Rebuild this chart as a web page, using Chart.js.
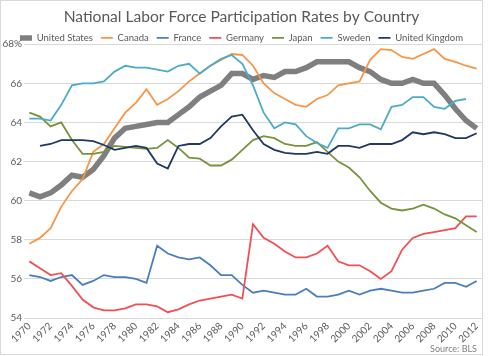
<!DOCTYPE html>
<html>
<head>
<meta charset="utf-8">
<script src="https://cdn.jsdelivr.net/npm/chart.js@4"></script>
<style>
  html, body { margin: 0; padding: 0; background: #ffffff; }
  #wrap { width: 490px; height: 356px; position: relative; }
</style>
</head>
<body>
<div id="wrap"><canvas id="c" width="490" height="356"></canvas></div>
<script>
const years = [];
for (let y = 1970; y <= 2012; y++) years.push(String(y));

const seriesNames = ["United States", "Canada", "France", "Germany", "Japan", "Sweden", "United Kingdom"];

const unitedStates = [60.4, 60.2, 60.4, 60.8, 61.3, 61.2, 61.6, 62.3, 63.2, 63.7, 63.8, 63.9, 64.0, 64.0, 64.4, 64.8, 65.3, 65.6, 65.9, 66.5, 66.5, 66.2, 66.4, 66.3, 66.6, 66.6, 66.8, 67.1, 67.1, 67.1, 67.1, 66.8, 66.6, 66.2, 66.0, 66.0, 66.2, 66.0, 66.0, 65.4, 64.7, 64.1, 63.7];
const canada = [57.8, 58.1, 58.6, 59.7, 60.5, 61.1, 62.5, 62.9, 63.7, 64.5, 65.0, 65.7, 64.9, 65.2, 65.6, 66.1, 66.5, 66.9, 67.2, 67.5, 67.45, 66.9, 66.0, 65.5, 65.2, 64.9, 64.8, 65.2, 65.4, 65.9, 66.0, 66.1, 67.2, 67.75, 67.7, 67.35, 67.25, 67.5, 67.75, 67.25, 67.1, 66.9, 66.75];
const france = [56.2, 56.1, 55.9, 56.1, 56.2, 55.7, 55.9, 56.2, 56.1, 56.1, 56.0, 55.8, 57.7, 57.3, 57.1, 57.0, 57.1, 56.7, 56.2, 56.2, 55.7, 55.3, 55.4, 55.3, 55.2, 55.2, 55.5, 55.1, 55.1, 55.2, 55.4, 55.2, 55.4, 55.5, 55.4, 55.3, 55.3, 55.4, 55.5, 55.8, 55.8, 55.6, 55.9];
const germany = [56.9, 56.55, 56.2, 56.3, 55.65, 54.95, 54.55, 54.4, 54.4, 54.5, 54.7, 54.7, 54.6, 54.3, 54.45, 54.7, 54.9, 55.0, 55.1, 55.2, 55.0, 58.8, 58.1, 57.8, 57.4, 57.1, 57.1, 57.3, 57.7, 56.9, 56.7, 56.7, 56.4, 56.0, 56.4, 57.5, 58.1, 58.3, 58.4, 58.5, 58.6, 59.2, 59.2];
const japan = [64.5, 64.3, 63.8, 64.0, 63.1, 62.4, 62.4, 62.5, 62.8, 62.75, 62.7, 62.65, 62.7, 63.1, 62.7, 62.2, 62.15, 61.8, 61.8, 62.1, 62.6, 63.1, 63.3, 63.2, 62.9, 62.8, 62.8, 63.0, 62.5, 62.0, 61.7, 61.2, 60.5, 59.9, 59.6, 59.5, 59.6, 59.8, 59.6, 59.3, 59.1, 58.75, 58.4];
const sweden = [64.2, 64.2, 64.1, 64.9, 65.9, 66.0, 66.0, 66.1, 66.6, 66.9, 66.8, 66.8, 66.7, 66.6, 66.9, 67.0, 66.5, 66.9, 67.25, 67.45, 67.0, 65.9, 64.5, 63.7, 64.0, 63.9, 63.3, 62.95, 62.7, 63.7, 63.7, 63.9, 63.9, 63.65, 64.8, 64.9, 65.3, 65.3, 64.8, 64.7, 65.1, 65.2, null];
const unitedKingdom = [null, 62.8, 62.9, 63.1, 63.1, 63.1, 63.05, 62.85, 62.6, 62.7, 62.8, 62.7, 61.9, 61.65, 62.8, 62.9, 62.9, 63.2, 63.8, 64.3, 64.4, 63.6, 62.9, 62.6, 62.45, 62.4, 62.4, 62.5, 62.4, 62.8, 62.8, 62.7, 62.9, 62.9, 62.9, 63.1, 63.5, 63.4, 63.5, 63.4, 63.2, 63.2, 63.45];

const yTicks = [54, 56, 58, 60, 62, 64, 66, 68];
const sourceNote = "Source: BLS";
const chartTitle = "National Labor Force Participation Rates by Country";

const seriesValues = [unitedStates, canada, france, germany, japan, sweden, unitedKingdom];
const colors = ["#7f7f7f", "#f79646", "#4a7ebb", "#ee5055", "#77933c", "#4bacc6", "#1f3864"];
const widths = [5.5, 1.8, 1.8, 1.8, 1.8, 1.8, 1.8];

const FONT = "Lato, 'Open Sans', sans-serif";

const datasets = seriesNames.map((name, i) => ({
  label: name,
  data: seriesValues[i],
  borderColor: colors[i],
  backgroundColor: colors[i],
  borderWidth: widths[i],
  pointRadius: 0,
  pointHoverRadius: 0,
  tension: 0,
  fill: false,
  spanGaps: false,
  order: seriesNames.length - i,
  pointStyle: 'line'
}));

const extras = {
  id: 'extras',
  afterDraw(chart) {
    const ctx = chart.ctx;
    ctx.save();
    ctx.fillStyle = '#7f7f7f';
    ctx.font = "9px " + FONT;
    ctx.textAlign = 'right';
    ctx.textBaseline = 'alphabetic';
    ctx.fillText(sourceNote, 477, 352);
    ctx.strokeStyle = '#d9d9d9';
    ctx.lineWidth = 1;
    ctx.strokeRect(0.5, 0.5, 482, 354);
    ctx.restore();
  }
};

new Chart(document.getElementById('c'), {
  type: 'line',
  data: { labels: years, datasets },
  options: {
    responsive: false,
    animation: false,
    devicePixelRatio: 1,
    layout: { padding: { left: 1, right: 8, top: 0, bottom: 9 } },
    plugins: {
      title: {
        display: true,
        text: chartTitle,
        color: '#595959',
        font: { family: FONT, size: 15.6, weight: 'normal', lineHeight: 1.2 },
        padding: { top: 8, bottom: -1.5 }
      },
      legend: {
        display: true,
        position: 'top',
        maxHeight: 19,
        labels: {
          usePointStyle: true,
          pointStyleWidth: 12,
          boxHeight: 10,
          color: '#595959',
          font: { family: FONT, size: 9.5 },
          padding: 8,
          sort: (a, b) => a.datasetIndex - b.datasetIndex
        }
      },
      tooltip: { enabled: false }
    },
    scales: {
      x: {
        type: 'category',
        offset: true,
        grid: { display: false, drawTicks: false },
        border: { display: true, color: '#d9d9d9' },
        ticks: {
          autoSkip: false,
          maxRotation: 45,
          minRotation: 45,
          color: '#595959',
          font: { family: FONT, size: 10 },
          padding: 2,
          callback: function (val, idx) {
            const lab = this.getLabelForValue(val);
            return (Number(lab) % 2 === 0) ? lab : '';
          }
        }
      },
      y: {
        min: 54,
        max: 68,
        afterBuildTicks: (s) => { s.ticks = yTicks.map(v => ({ value: v })); },
        afterFit: (s) => { s.width = 23; },
        grid: { color: '#d9d9d9', drawTicks: false },
        border: { display: false },
        ticks: {
          color: '#595959',
          font: { family: FONT, size: 10 },
          padding: 2,
          callback: (v) => v === 68 ? '68%' : String(v)
        }
      }
    }
  },
  plugins: [extras]
});
</script>
</body>
</html>
